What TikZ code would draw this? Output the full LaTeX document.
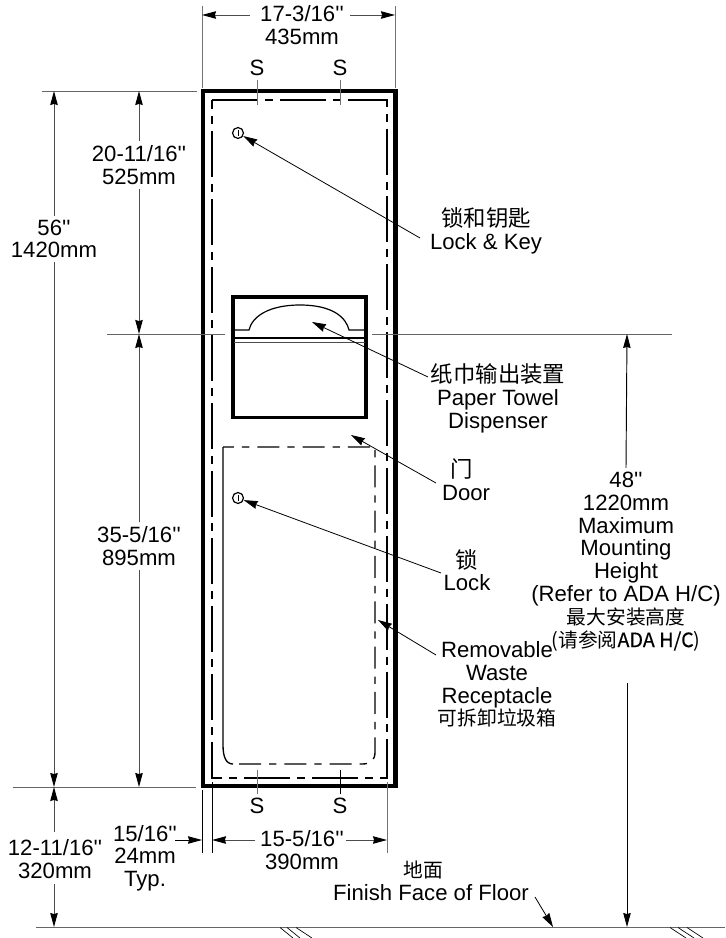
\documentclass[tikz,border=0pt]{standalone}
\usepackage{fontspec}
\usetikzlibrary{arrows.meta}
\newfontfamily\hv{Liberation Sans}
\newfontfamily\cjkf{Noto Sans CJK SC}
\newfontfamily\cjkm[FakeBold=0.35]{Noto Sans CJK SC}
\newcommand{\cjkL}[1]{{\cjkf\fontsize{16.8}{17}\selectfont #1}}
\newcommand{\cjkS}[1]{{\cjkf\fontsize{14.8}{17}\selectfont #1}}
\newcommand{\cjkM}[1]{{\cjkm\fontsize{14.8}{17}\selectfont #1}}
\tikzset{
  txt/.style={font=\hv\fontsize{16.6}{17}\selectfont,align=center,inner sep=0pt,text=black},
  thinl/.style={line width=0.7pt,draw=black!60},
  dimarr/.style={line width=0.7pt,draw=black!70,-{Stealth[length=10.5pt,width=5.6pt,inset=0.8pt,color=black]}},
  darkarr/.style={line width=0.7pt,draw=black,-{Stealth[length=10.5pt,width=5.6pt,inset=0.8pt]}},
  leader/.style={line width=0.6pt,draw=black,-{Stealth[length=10.5pt,width=6pt,inset=0.8pt]}},
  ext/.style={line width=0.7pt,draw=black!55},
  extk/.style={line width=0.7pt,draw=black},
  hatch/.style={line width=0.5pt,draw=black},
  frame/.style={line width=3.2pt,draw=black},
  panel/.style={line width=2.6pt,draw=black},
  seam/.style={line width=1.5pt,draw=black,dash pattern=on 34.5pt off 5.2pt on 6pt off 5.2pt},
  door/.style={line width=1pt,draw=black,dash pattern=on 16.5pt off 6pt on 5.5pt off 6pt},
  lockc/.style={circle,draw=black,line width=0.9pt,minimum size=8.2pt,inner sep=0pt}
}
\begin{document}
\begin{tikzpicture}[x=0.75pt,y=-0.75pt]
\useasboundingbox (0,0) rectangle (725,938);
% cabinet
\draw[frame] (203,91) rectangle (395.5,786);
\draw[seam] (212,100) -- (387,100) -- (387,778) -- (212,778) -- cycle;
% dispenser
\draw[panel] (233,297) rectangle (366,417.5);
\draw[line width=0.9pt] (234,330) -- (249,330) .. controls (252,317) and (268,305) .. (300,305) .. controls (332,305) and (346,317) .. (349,330) -- (365,330);
\draw[line width=1.5pt] (234,338) -- (365,338);
\draw[line width=0.7pt,draw=black!70] (234,342) -- (365,342);
% door
\draw[line width=1pt] (223,447) -- (223,745) .. controls (223,757) and (226,764) .. (233,764);
\draw[door] (239,764) -- (362,764) .. controls (371,764) and (375,760) .. (375,752) -- (375,447) -- (223,447);
% locks
\node[lockc] (lockA) at (238,133) {};
\draw[line width=0.7pt] (238,130) -- (238,136);
\node[lockc] (lockB) at (238,498) {};
\draw[line width=0.7pt] (238,495) -- (238,501);
% fastener marks
\node[txt] (sTa) at (257,68) {S};
\node[txt] (sTb) at (340,68) {S};
\node[txt] (sBa) at (257,806) {S};
\node[txt] (sBb) at (340,806) {S};
\coordinate (sTaE) at (257,105);
\coordinate (sTbE) at (340,105);
\coordinate (sBaE) at (257,770);
\coordinate (sBbE) at (340,770);
\draw[ext] (257,80) -- (sTaE);
\draw[ext] (340,80) -- (sTbE);
\draw[ext] (257,794) -- (sBaE);
\draw[extk] (340,794) -- (sBbE);
% reference lines
\draw[thinl] (42,91) -- (197,91);
\draw[thinl] (13,787) -- (196,787);
\draw[thinl] (107,334) -- (225,334);
\draw[thinl] (372,334) -- (672,334);
\draw[thinl] (36,927) -- (725,927);
\draw[hatch] (280,927.5) -- (293,938);
\draw[hatch] (287,927.5) -- (300,938);
\draw[hatch] (296,927.5) -- (312,938);
\draw[hatch] (670,927.5) -- (686,938);
\draw[hatch] (678,927.5) -- (694,938);
\draw[hatch] (687,927.5) -- (703,938);
% top width
\draw[ext] (202,6) -- (202,88);
\draw[ext] (395,6) -- (395,88);
\node[txt] (dW) at (302,25) {17-3/16''\\435mm};
\coordinate (wL) at (202,15); \coordinate (wLt) at (250,15);
\coordinate (wR) at (395,15); \coordinate (wRt) at (350,15);
\draw[dimarr] (wLt) -- (wL);
\draw[dimarr] (wRt) -- (wR);
% left dims outer
\coordinate (x56t) at (54,91); \coordinate (x56b) at (54,787); \coordinate (x0) at (54,927);
\node[txt] (d56) at (54,239) {56''\\1420mm};
\draw[dimarr] ([yshift=3pt]d56.north) -- (x56t);
\draw[dimarr] ([yshift=-3pt]d56.south) -- (x56b);
\node[txt] (d12) at (55,859) {12-11/16''\\320mm};
\coordinate (x12a) at (54,832); \coordinate (x12b) at (54,884);
\draw[dimarr] (x12a) -- (x56b);
\draw[dimarr] (x12b) -- (x0);
% left dims inner
\coordinate (xAt) at (139,91); \coordinate (xAm) at (139,334); \coordinate (xAb) at (139,787);
\node[txt] (d20) at (139,165) {20-11/16''\\525mm};
\draw[dimarr] ([yshift=3pt]d20.north) -- (xAt);
\draw[dimarr] ([yshift=-3pt]d20.south) -- (xAm);
\node[txt] (d35) at (139,546) {35-5/16''\\895mm};
\draw[dimarr] ([yshift=3pt]d35.north) -- (xAm);
\draw[dimarr] ([yshift=-3pt]d35.south) -- (xAb);
% bottom dims
\draw[extk] (202,790) -- (202,853);
\draw[extk] (212,782) -- (212,853);
\draw[ext] (387,782) -- (387,853);
\node[txt] (d15) at (145,858) {15/16''\\24mm\\Typ.};
\coordinate (tA) at (175,840); \coordinate (tAe) at (202,840);
\draw[darkarr] (tA) -- (tAe);
\node[txt] (d390) at (302,850) {15-5/16''\\390mm};
\coordinate (bL) at (212,840); \coordinate (bLt) at (255,840);
\coordinate (bR) at (387,840); \coordinate (bRt) at (346,840);
\draw[dimarr] (bLt) -- (bL);
\draw[dimarr] (bRt) -- (bR);
% mounting height
\coordinate (hT) at (627,334); \coordinate (hB) at (627,927);
\node[txt,font=\hv\fontsize{16.6}{17.1}\selectfont] (d48) at (626,561.5) {48''\\1220mm\\Maximum\\Mounting\\Height\\(Refer to ADA H/C)\\\cjkS{最大安装高度}\\\cjkS{(请参阅}\cjkM{ADA H/C}\cjkS{)}};
\draw[darkarr] ([yshift=3pt]d48.north) -- (hT);
\coordinate (hBt) at (627,683);
\draw[darkarr] (hBt) -- (hB);
% leaders
\node[txt] (lKey) at (486,231) {\cjkL{锁和钥匙}\\Lock \& Key};
\coordinate (lKeyE) at (420,238);
\draw[leader] (lKeyE) -- (lockA);
\node[txt] (lTowel) at (498,398.5) {\cjkL{纸巾输出装置}\\Paper Towel\\Dispenser};
\coordinate (lTowelE) at (428,377); \coordinate (lTowelT) at (312,322);
\draw[leader] (lTowelE) -- (lTowelT);
\node[txt] (lDoor) at (466,480) {\cjkL{门}\hspace*{7pt}\\Door};
\coordinate (lDoorE) at (436,483); \coordinate (lDoorT) at (351,435);
\draw[leader] (lDoorE) -- (lDoorT);
\node[txt] (lLock) at (467,570) {\cjkL{锁}\\Lock};
\coordinate (lLockE) at (441,573);
\draw[leader] (lLockE) -- (lockB);
\node[txt] (lWaste) at (497,684.5) {Removable\\Waste\\Receptacle\\\cjkS{可拆卸垃圾箱}};
\coordinate (lWasteE) at (436,655); \coordinate (lWasteT) at (378,620);
\draw[leader] (lWasteE) -- (lWasteT);
\node[txt] (lFloor) at (431,881) {\cjkS{地面}\hspace*{12pt}\\Finish Face of Floor};
\coordinate (lFloorE) at (535,897); \coordinate (lFloorT) at (553,927);
\draw[leader] (lFloorE) -- (lFloorT);
\end{tikzpicture}
\end{document}
